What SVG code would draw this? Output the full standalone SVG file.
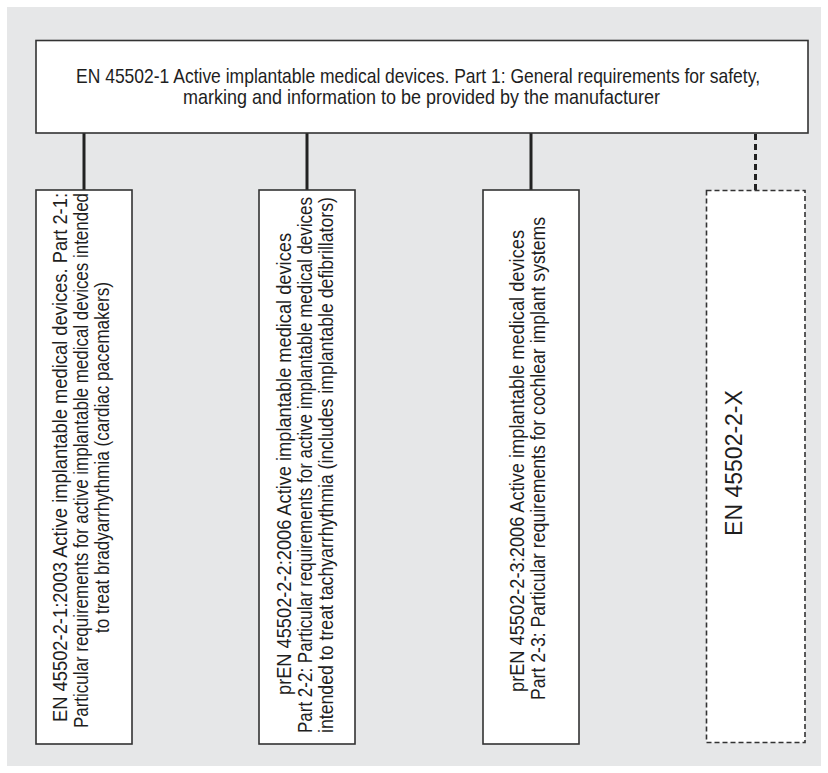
<svg xmlns="http://www.w3.org/2000/svg" width="828" height="773" viewBox="0 0 828 773">
<style>
.box{fill:#ffffff;stroke:#333333;stroke-width:1.6}
.dbox{fill:#ffffff;stroke:#333333;stroke-width:1.6;stroke-dasharray:5 3}
.conn{stroke:#222222;stroke-width:3;fill:none}
.dconn{stroke:#222222;stroke-width:3;fill:none;stroke-dasharray:6 4}
.t{font-family:"Liberation Sans Narrow","Liberation Sans",sans-serif;fill:#1e1e1e;text-anchor:middle}
.top{font-size:21px}
.rot{font-size:20px}
.big{font-size:23px}
</style>
<rect x="7" y="7" width="814" height="759" fill="#e6e7e8"/>
<g id="connectors">
<line class="conn" x1="84" y1="133" x2="84" y2="190"/>
<line class="conn" x1="307" y1="133" x2="307" y2="190"/>
<line class="conn" x1="531" y1="133" x2="531" y2="190"/>
<line class="dconn" x1="755.5" y1="134" x2="755.5" y2="190"/>
</g>
<g id="node-top">
<rect class="box" x="36" y="40.5" width="772" height="92.5"/>
<text class="t top" x="418" y="83" textLength="684" lengthAdjust="spacingAndGlyphs">EN 45502-1 Active implantable medical devices. Part 1: General requirements for safety,</text>
<text class="t top" x="421.5" y="103.5" textLength="477" lengthAdjust="spacingAndGlyphs">marking and information to be provided by the manufacturer</text>
</g>
<g id="node-2-1">
<rect class="box" x="36" y="190" width="96" height="554"/>
<text class="t rot" transform="translate(67,457.5) rotate(-90)" textLength="529" lengthAdjust="spacingAndGlyphs">EN 45502-2-1:2003 Active implantable medical devices. Part 2-1:</text>
<text class="t rot" transform="translate(88,460.5) rotate(-90)" textLength="535" lengthAdjust="spacingAndGlyphs">Particular requirements for active implantable medical devices intended</text>
<text class="t rot" transform="translate(109,457.5) rotate(-90)" textLength="351" lengthAdjust="spacingAndGlyphs">to treat bradyarrhythmia (cardiac pacemakers)</text>
</g>
<g id="node-2-2">
<rect class="box" x="259" y="190" width="96" height="554"/>
<text class="t rot" transform="translate(291,464) rotate(-90)" textLength="462" lengthAdjust="spacingAndGlyphs">prEN 45502-2-2:2006  Active implantable medical devices</text>
<text class="t rot" transform="translate(312,465) rotate(-90)" textLength="536" lengthAdjust="spacingAndGlyphs">Part 2-2: Particular requirements for active implantable medical devices</text>
<text class="t rot" transform="translate(333,465) rotate(-90)" textLength="536" lengthAdjust="spacingAndGlyphs">intended to treat tachyarrhythmia (includes implantable defibrillators)</text>
</g>
<g id="node-2-3">
<rect class="box" x="483" y="190" width="96" height="554"/>
<text class="t rot" transform="translate(524,461) rotate(-90)" textLength="462" lengthAdjust="spacingAndGlyphs">prEN 45502-2-3:2006  Active implantable medical devices</text>
<text class="t rot" transform="translate(545,458.5) rotate(-90)" textLength="483" lengthAdjust="spacingAndGlyphs">Part 2-3: Particular requirements for cochlear implant systems</text>
</g>
<g id="node-2-x">
<rect class="dbox" x="706.5" y="190.5" width="98.5" height="552"/>
<text class="t big" transform="translate(742,463) rotate(-90)">EN 45502-2-X</text>
</g>
</svg>
